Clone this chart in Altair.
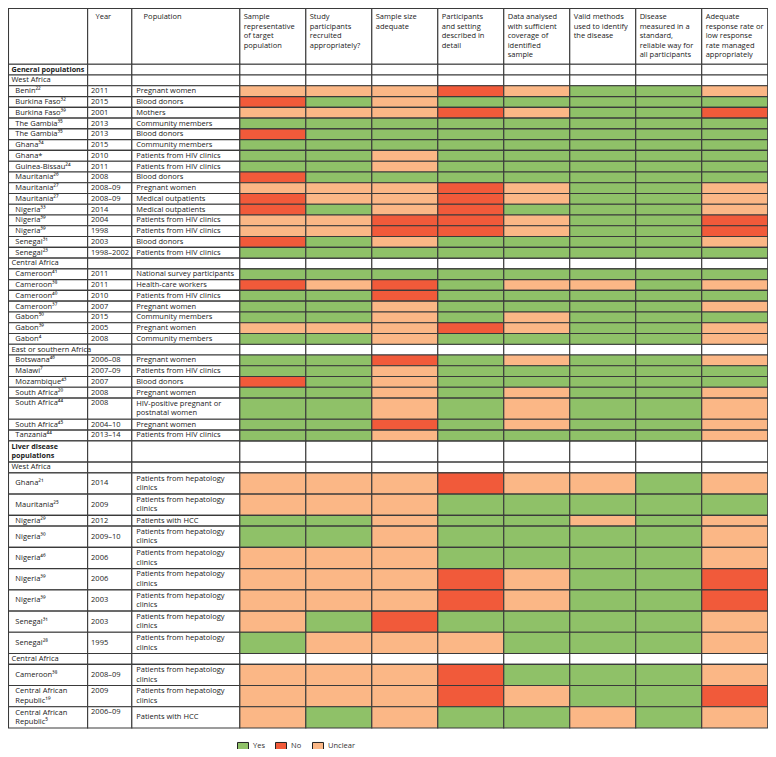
import altair as alt
import pandas as pd

FONT = "Open Sans"
TEXT_COLOR = "#1a1a1a"
GRID = "#3a3a3a"
COLORS = {"Yes": "#8fc168", "No": "#f15a3a", "Unclear": "#fbb786"}
CODE = {"Y": "Yes", "N": "No", "U": "Unclear"}

header_year = "Year"
header_population = "Population"
criteria = [
    "Sample\nrepresentative\nof target\npopulation",
    "Study\nparticipants\nrecruited\nappropriately?",
    "Sample size\nadequate",
    "Participants\nand setting\ndescribed in\ndetail",
    "Data analysed\nwith sufficient\ncoverage of\nidentified\nsample",
    "Valid methods\nused to identify\nthe disease",
    "Disease\nmeasured in a\nstandard,\nreliable way for\nall participants",
    "Adequate\nresponse rate or\nlow response\nrate managed\nappropriately",
]

HEP = "Patients from hepatology\nclinics"

gen_west = [
    ("Benin²²", "2011", "Pregnant women", "UUUNUYYU"),
    ("Burkina Faso³²", "2015", "Blood donors", "NYUYYYYY"),
    ("Burkina Faso³⁹", "2001", "Mothers", "UUUNUYYN"),
    ("The Gambia³⁵", "2013", "Community members", "YYYYYYYY"),
    ("The Gambia³⁵", "2013", "Blood donors", "NYYYYYYY"),
    ("Ghana³⁴", "2015", "Community members", "YYYYYYYY"),
    ("Ghana*", "2010", "Patients from HIV clinics", "YYUYYYYY"),
    ("Guinea-Bissau²⁴", "2011", "Patients from HIV clinics", "YYUYYYYY"),
    ("Mauritania²⁶", "2008", "Blood donors", "NYYYYYYY"),
    ("Mauritania²⁷", "2008–09", "Pregnant women", "UUUNUYYU"),
    ("Mauritania²⁷", "2008–09", "Medical outpatients", "NUUNUYYU"),
    ("Nigeria³³", "2014", "Medical outpatients", "NYUNYYYU"),
    ("Nigeria³⁹", "2004", "Patients from HIV clinics", "UUNNUYYN"),
    ("Nigeria³⁹", "1998", "Patients from HIV clinics", "UUNNUYYN"),
    ("Senegal³¹", "2003", "Blood donors", "NYUYYYYU"),
    ("Senegal²³", "1998–2002", "Patients from HIV clinics", "YYYYYYYY"),
]
gen_central = [
    ("Cameroon⁴¹", "2011", "National survey participants", "YYYYYYYY"),
    ("Cameroon³⁸", "2011", "Health-care workers", "NUNYUUYU"),
    ("Cameroon⁴⁰", "2010", "Patients from HIV clinics", "YYNYYYYY"),
    ("Cameroon³⁷", "2007", "Pregnant women", "YYUYYYYU"),
    ("Gabon⁵⁰", "2015", "Community members", "YYUYUYYY"),
    ("Gabon³⁹", "2005", "Pregnant women", "UUUNUYYU"),
    ("Gabon⁴", "2008", "Community members", "YYUYYYYU"),
]
gen_east = [
    ("Botswana⁴⁶", "2006–08", "Pregnant women", "YYNYUYYU"),
    ("Malawi⁷", "2007–09", "Patients from HIV clinics", "YYUYYYYY"),
    ("Mozambique⁴³", "2007", "Blood donors", "NYUYYYYY"),
    ("South Africa²⁰", "2008", "Pregnant women", "YYUYUYYU"),
    ("South Africa⁴⁴", "2008", "HIV-positive pregnant or\npostnatal women", "YYUYUYYU"),
    ("South Africa⁴⁵", "2004–10", "Pregnant women", "YYNYUYYU"),
    ("Tanzania⁴⁴", "2013–14", "Patients from HIV clinics", "YYUYYYYU"),
]
liver_west = [
    ("Ghana²¹", "2014", HEP, "UUUNUUYU"),
    ("Mauritania²⁵", "2009", HEP, "UUUYYYYY"),
    ("Nigeria²⁹", "2012", "Patients with HCC", "YYUYYUYU"),
    ("Nigeria³⁰", "2009–10", HEP, "YYUYYYYU"),
    ("Nigeria⁴⁶", "2006", HEP, "UUUYYYYU"),
    ("Nigeria³⁹", "2006", HEP, "UUUNUYYN"),
    ("Nigeria³⁹", "2003", HEP, "UUUNUYYN"),
    ("Senegal³¹", "2003", HEP, "UYNYYYYU"),
    ("Senegal²⁸", "1995", HEP, "YUUUYYYU"),
]
liver_central = [
    ("Cameroon³⁸", "2008–09", HEP, "UUUNYYYU"),
    ("Central African\nRepublic¹⁹", "2009", HEP, "UUUNUYYN"),
    ("Central African\nRepublic⁵", "2006–09", "Patients with HCC", "UYUYYUYU"),
]

sections = [
    ("General populations", False, [("West Africa", gen_west),
                                    ("Central Africa", gen_central),
                                    ("East or southern Africa", gen_east)]),
    ("Liver disease\npopulations", True, [("West Africa", liver_west),
                                          ("Central Africa", liver_central)]),
]

# ---------------- layout (reference pixel units) ----------------
col_widths = [80.6, 45.0, 110.0] + [67.2] * 8
x_edges = [2.0]
for w in col_widths:
    x_edges.append(x_edges[-1] + w)
HEADER_H = 57.0
LINE_H = {1: 11.0, 2: 21.7}
LH = 9.7
SX = [1.5, 775.5]
SY = [0.5, 757.5]
W, H = 760, 741
sy = H / (SY[1] - SY[0])


def nlines(s):
    return s.count("\n") + 1


def centred(mid, s):
    # y of the first line so that the block of lines is centred on mid
    return mid - (nlines(s) - 1) * LH / 2


white, rated, texts, bold = [], [], [], []


def add_white_row(y0, y1):
    for c in range(len(col_widths)):
        white.append(dict(x0=x_edges[c], x1=x_edges[c + 1], y0=y0, y1=y1))


# header
y = 1.0
add_white_row(y, y + HEADER_H)
for txt, xx in [(header_year, x_edges[1] + 8), (header_population, x_edges[2] + 12)]:
    texts.append(dict(x=xx, y=10, text=txt))
for i, txt in enumerate(criteria):
    texts.append(dict(x=x_edges[3 + i] + 4, y=10, text=txt))
y += HEADER_H

for sec_label, liver, regions in sections:
    h = LINE_H[nlines(sec_label)]
    add_white_row(y, y + h)
    bold.append(dict(x=x_edges[0] + 3, y=centred(y + h / 2, sec_label), text=sec_label))
    y += h
    for reg_label, studies in regions:
        h = LINE_H[1]
        add_white_row(y, y + h)
        texts.append(dict(x=x_edges[0] + 3, y=y + h / 2, text=reg_label))
        y += h
        for name, year, pop, rating in studies:
            L = max(nlines(name), nlines(pop))
            h = LINE_H[L]
            for c in range(3):
                white.append(dict(x0=x_edges[c], x1=x_edges[c + 1], y0=y, y1=y + h))
            for i, ch in enumerate(rating):
                rated.append(dict(x0=x_edges[3 + i], x1=x_edges[4 + i], y0=y, y1=y + h,
                                  rating=CODE[ch]))
            top = y + 5.5
            mid = y + h / 2
            if liver:
                y_name, y_pop = centred(mid, name), centred(mid, pop)
                y_year = top if nlines(name) > 1 else mid
            else:
                y_name = centred(mid, name) if nlines(name) == L else top
                y_year = mid if L == 1 else top
                y_pop = centred(mid, pop)
            texts.append(dict(x=x_edges[0] + 7, y=y_name, text=name))
            texts.append(dict(x=x_edges[1] + 3.5, y=y_year, text=year))
            texts.append(dict(x=x_edges[2] + 4.5, y=y_pop, text=pop))
            y += h


def X(f):
    return alt.X(f, type="quantitative", axis=None,
                 scale=alt.Scale(domain=SX, range=[0, W], nice=False, zero=False))


def Y(f):
    return alt.Y(f, type="quantitative", axis=None,
                 scale=alt.Scale(domain=SY, range=[0, H], nice=False, zero=False))


white_layer = alt.Chart(pd.DataFrame(white)).mark_rect(
    fill="white", stroke=GRID, strokeWidth=1.1
).encode(x=X("x0"), x2="x1", y=Y("y0"), y2="y1")

rated_layer = alt.Chart(pd.DataFrame(rated)).mark_rect(
    stroke=GRID, strokeWidth=1.1, opacity=1
).encode(
    x=X("x0"), x2="x1", y=Y("y0"), y2="y1",
    fill=alt.Fill("rating:N",
                  scale=alt.Scale(domain=list(COLORS), range=list(COLORS.values())),
                  legend=alt.Legend(title=None, orient="none", legendX=229, legendY=732,
                                    direction="horizontal", columns=3,
                                    symbolType="M-1,-0.73H1V0.73H-1Z", symbolSize=121,
                                    symbolStrokeColor="#222", symbolStrokeWidth=1,
                                    symbolOpacity=1, labelFont=FONT, labelFontSize=7.5,
                                    labelColor="#333", labelOffset=4, columnPadding=8,
                                    padding=0)),
)

text_layer = alt.Chart(pd.DataFrame(texts)).mark_text(
    align="left", baseline="middle", font=FONT, fontSize=7.5, lineBreak="\n",
    lineHeight=LH * sy, color=TEXT_COLOR
).encode(x=X("x"), y=Y("y"), text="text:N")

bold_layer = alt.Chart(pd.DataFrame(bold)).mark_text(
    align="left", baseline="middle", font=FONT, fontSize=7.2, fontWeight="bold",
    lineBreak="\n", lineHeight=LH * sy, color=TEXT_COLOR
).encode(x=X("x"), y=Y("y"), text="text:N")

chart = alt.layer(white_layer, rated_layer, text_layer, bold_layer).properties(
    width=W, height=H, padding=0, autosize=alt.AutoSizeParams(type="none")
).configure_view(stroke=None)

chart.save("out.html", embed_options={"renderer": "svg", "actions": False})
